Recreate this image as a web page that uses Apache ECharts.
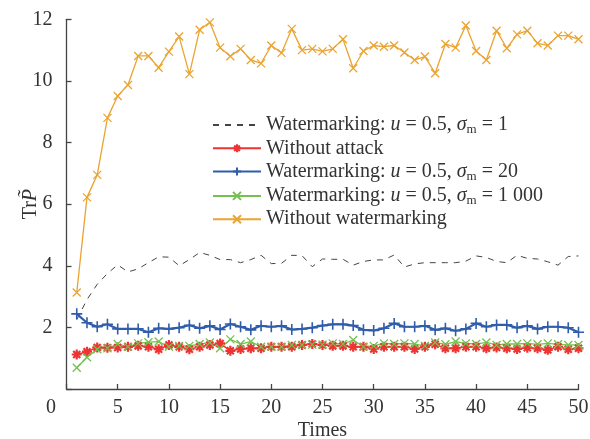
<!DOCTYPE html>
<html><head><meta charset="utf-8">
<script src="https://cdn.jsdelivr.net/npm/echarts@6/dist/echarts.min.js"></script>
<style>html,body{margin:0;padding:0;background:#fff}#c{width:590px;height:439px}</style>
</head><body><div id="c"></div>
<script>
const times = Array.from({length: 50}, (_, i) => i + 1);
const xTicks = [0, 5, 10, 15, 20, 25, 30, 35, 40, 45, 50];
const yTicks = [0, 2, 4, 6, 8, 10, 12];
const seriesNames = [
  'Watermarking: u = 0.5, σm = 1',
  'Without attack',
  'Watermarking: u = 0.5, σm = 20',
  'Watermarking: u = 0.5, σm = 1 000',
  'Without watermarking'
];
const wmSigma1 = [2.25,2.9,3.4,3.75,4.03,3.8,3.9,4.1,4.29,4.28,4.0,4.2,4.43,4.34,4.2,4.2,4.1,4.2,4.34,4.07,4.08,4.34,4.33,3.97,4.22,4.21,4.21,4.02,4.14,4.19,4.19,4.35,3.96,4.06,4.1,4.1,4.1,4.1,4.15,4.32,4.27,4.14,4.1,4.34,4.24,4.22,4.13,4.02,4.3,4.32];
const noAttack = [1.12,1.21,1.35,1.34,1.35,1.37,1.4,1.37,1.29,1.43,1.37,1.29,1.37,1.43,1.48,1.24,1.3,1.32,1.32,1.37,1.37,1.37,1.43,1.46,1.43,1.4,1.4,1.37,1.37,1.3,1.37,1.37,1.37,1.3,1.37,1.45,1.32,1.32,1.37,1.37,1.32,1.35,1.32,1.3,1.34,1.32,1.27,1.37,1.29,1.32];
const wmSigma20 = [2.44,2.15,2.02,2.1,1.95,1.95,1.95,1.84,1.97,1.95,1.99,2.07,1.97,2.05,1.93,2.11,2.02,1.92,2.05,2.02,2.05,1.93,1.95,1.99,2.06,2.1,2.1,2.06,1.92,1.9,1.97,2.13,2.02,2.02,2.05,1.92,1.97,1.89,1.95,2.13,2.02,2.08,2.08,1.99,2.05,1.95,2.02,2.02,1.99,1.84];
const wmSigma1000 = [0.69,1.03,1.29,1.32,1.46,1.37,1.48,1.52,1.54,1.37,1.4,1.4,1.46,1.51,1.32,1.61,1.46,1.54,1.37,1.37,1.37,1.43,1.43,1.44,1.44,1.48,1.46,1.59,1.37,1.4,1.48,1.46,1.48,1.46,1.4,1.51,1.45,1.54,1.48,1.46,1.51,1.43,1.46,1.46,1.48,1.45,1.48,1.45,1.43,1.43];
const noWatermark = [3.13,6.22,6.95,8.8,9.51,9.87,10.81,10.81,10.43,10.95,11.44,10.22,11.66,11.9,11.08,10.8,11.04,10.68,10.57,11.15,10.91,11.69,11.0,11.04,10.96,11.04,11.35,10.41,10.97,11.15,11.11,11.15,10.92,10.68,10.79,10.25,11.2,11.08,11.8,10.97,10.68,11.63,11.06,11.51,11.63,11.22,11.15,11.47,11.47,11.35];

const FONT = '"Liberation Serif", "Times New Roman", serif';
const PLUS = 'path://M0,5L10,5M5,0L5,10';
const CROSS = 'path://M0,0L10,10M10,0L0,10';
const STAR = 'path://M0,5L10,5M5,0L5,10M1.5,1.5L8.5,8.5M8.5,1.5L1.5,8.5';

function pairs(arr){ return arr.map((v,i)=>[times[i], v]); }
function mk(name, data, color, symbol, size, width, bw, dashed){
  return {
    name, type: 'line', data: pairs(data),
    symbol: dashed ? 'none' : symbol, symbolSize: size, showSymbol: !dashed,
    lineStyle: {color, width, type: dashed ? [6,6] : 'solid'},
    itemStyle: {color, borderColor: color, borderWidth: bw},
    emphasis: {disabled: true}, animation: false, z: 2
  };
}
const chart = echarts.init(document.getElementById('c'), null, {renderer: 'canvas'});
chart.setOption({
  animation: false,
  grid: {left: 66.5, right: 11.5, top: 19.3, bottom: 50, containLabel: false, outerBoundsMode: 'none'},
  xAxis: {
    type: 'value', min: xTicks[0], max: xTicks[xTicks.length-1], interval: 5,
    name: 'Times', nameLocation: 'middle', nameGap: 32, nameMoveOverlap: false,
    nameTextStyle: {fontFamily: FONT, fontSize: 20, color: '#333'},
    axisLine: {lineStyle: {color: '#444', width: 1.3}},
    axisTick: {inside: true, length: 5, lineStyle: {color: '#444', width: 1.3}},
    axisLabel: {fontFamily: FONT, fontSize: 20, color: '#333', margin: 9,
      formatter: v => v === 0 ? '' : String(v)},
    splitLine: {show: false}
  },
  yAxis: {
    type: 'value', min: yTicks[0], max: yTicks[yTicks.length-1], interval: 2,
    name: 'Tr{i|P\u0303}', nameLocation: 'middle', nameGap: 26, nameMoveOverlap: false,
    nameTextStyle: {fontFamily: FONT, fontSize: 20, color: '#333',
      rich: {i: {fontFamily: FONT, fontSize: 20, fontStyle: 'italic', color: '#333'}}},
    axisLine: {show: true, lineStyle: {color: '#444', width: 1.3}},
    axisTick: {show: true, inside: true, length: 5, lineStyle: {color: '#444', width: 1.3}},
    axisLabel: {fontFamily: FONT, fontSize: 20, color: '#333', margin: 14,
      formatter: v => v === 0 ? '' : String(v)},
    splitLine: {show: false}
  },
  legend: {
    orient: 'vertical', left: 207, top: 109,
    itemWidth: 48, itemHeight: 10, itemGap: 2.3,
    data: [{name: seriesNames[0], itemStyle: {opacity: 0}}].concat(seriesNames.slice(1)),
    textStyle: {fontFamily: FONT, fontSize: 20, color: '#333', lineHeight: 20,
      rich: {
        i: {fontFamily: FONT, fontSize: 20, fontStyle: 'italic', color: '#333', lineHeight: 20},
        sub: {fontFamily: FONT, fontSize: 13, color: '#333', padding: [9,0,0,0], lineHeight: 20}
      }},
    formatter: n => n.replace('u =', '{i|u} =').replace('σm', '{i|σ}{sub|m}')
  },
  graphic: [{type: 'text', left: 46, top: 398, style: {text: '0', fontFamily: FONT, fontSize: 20, fill: '#333'}}],
  series: [
    mk(seriesNames[0], wmSigma1, '#444', 'none', 0, 1, 0, true),
    mk(seriesNames[1], noAttack, '#EE3333', STAR, 10, 1.5, 2.2),
    mk(seriesNames[2], wmSigma20, '#2F5DAA', PLUS, 11, 2.2, 1.6),
    mk(seriesNames[3], wmSigma1000, '#74C050', CROSS, 8, 1.3, 1.3),
    mk(seriesNames[4], noWatermark, '#EBA332', CROSS, 8, 1.3, 1.3)
  ]
});
</script></body></html>
